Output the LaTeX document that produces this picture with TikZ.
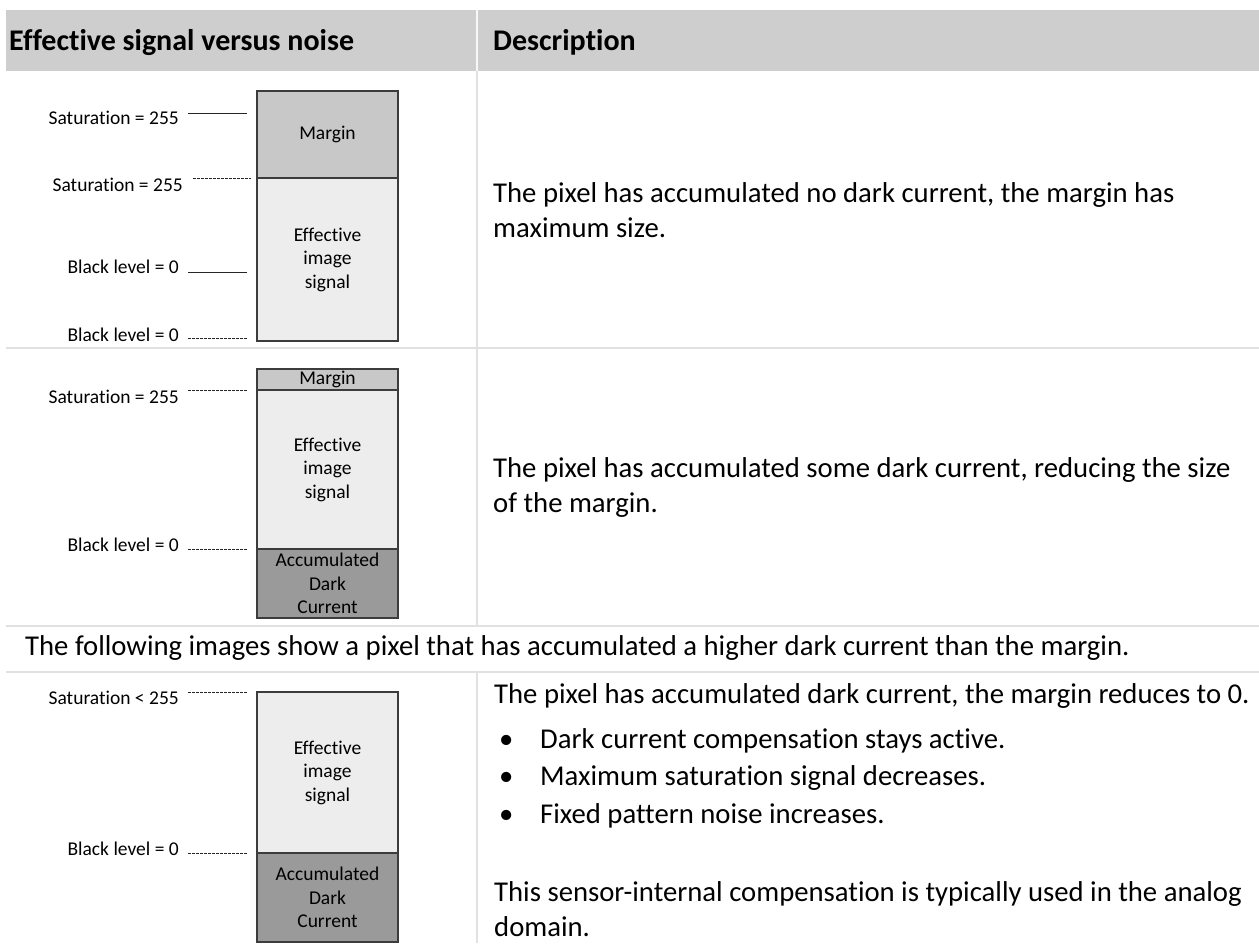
\documentclass[tikz,border=0pt]{standalone}
\usepackage{fontspec}
\setmainfont{Carlito}[Ligatures={NoCommon,NoContextual}]
\usepackage{tikz}
\usetikzlibrary{positioning}
\definecolor{hdrgray}{HTML}{CECECE}
\definecolor{rulegray}{HTML}{E1E1E1}
\definecolor{margingray}{HTML}{C8C8C8}
\definecolor{effgray}{HTML}{EDEDED}
\definecolor{darkcur}{HTML}{9A9A9A}
\definecolor{boxline}{HTML}{3C3C3C}
\newcommand\txtfont{\fontsize{28.7}{35}\selectfont}
\newcommand\hdrfont{\fontsize{30}{36}\selectfont\bfseries}
\newcommand\lblfont{\fontsize{19.5}{23.5}\selectfont}

\begin{document}
\begin{tikzpicture}[x=1pt,y=-1pt,
 seg/.style={draw=boxline,line width=1.6pt,minimum width=141pt,inner sep=0pt,outer sep=0pt,align=center,font=\lblfont},
 marg/.style={seg,fill=margingray}, eff/.style={seg,fill=effgray}, dark/.style={seg,fill=darkcur},
 lbl/.style={inner sep=0pt,font=\lblfont},
 tick/.style={line width=0.9pt,black!85}, dtick/.style={tick,dash pattern=on 3pt off 1pt},
 txt/.style={inner sep=0pt,anchor=west,align=left,font=\txtfont}, txtb/.style={txt,anchor=base west},
 hdr/.style={inner sep=0pt,anchor=base west,font=\hdrfont},
 rule/.style={rulegray,line width=2pt}]
\useasboundingbox (0,0) rectangle (1259,943);
\fill[white] (0,0) rectangle (1259,943);
% table
\fill[hdrgray] (6,10) rectangle (1259,71);
\draw[white!85!hdrgray,line width=2pt] (477,10) -- (477,71);
\node[hdr] (h1) at (9,50) {Effective signal versus noise};
\node[hdr] (h2) at (493,50) {Description};
\draw[rule] (6,348) -- (1259,348); \draw[rule] (6,626) -- (1259,626);
\draw[rule] (6,672) -- (1259,672);
\draw[rule] (477,71) -- (477,626); \draw[rule] (477,672) -- (477,943);
% row 1
\node[marg,anchor=north,minimum height=87pt] (m1) at (327.5,91) {Margin};
\node[eff,below=0pt of m1,minimum height=163pt] (e1) {Effective\\image\\signal};
\coordinate (s1) at (188,113); \coordinate (s2) at (193,178);
\coordinate (k1) at (188,272); \coordinate (k2) at (188,338);
\node[lbl,left=9pt of s1,yshift=-5pt] (sa1) {Saturation = 255};
\node[lbl,left=10pt of s2,yshift=-7pt] (sa2) {Saturation = 255};
\node[lbl,left=9pt of k1,yshift=5pt] (bl1) {Black level = 0};
\node[lbl,left=9pt of k2,yshift=3pt] (bl2) {Black level = 0};
\draw[tick] (s1) -- ([xshift=-10pt]m1.west |- s1);
\draw[dtick] (s2) -- ([xshift=-6pt]m1.west |- s2);
\draw[tick] (k1) -- ([xshift=-10pt]e1.west |- k1);
\draw[dtick] (k2) -- ([xshift=-10pt]e1.west |- k2);
\node[txt] (d1) at (493,210) {The pixel has accumulated no dark current, the margin has\\maximum size.};
% row 2
\node[marg,anchor=north,minimum height=21pt] (m2) at (327.5,369) {Margin};
\node[eff,below=0pt of m2,minimum height=159pt] (e2) {Effective\\image\\signal};
\node[dark,below=0pt of e2,minimum height=69pt] (a2) {Accumulated\\Dark\\Current};
\coordinate (s3) at (188,390); \coordinate (k3) at (188,549);
\node[lbl,left=9pt of s3,yshift=-7pt] (sa3) {Saturation = 255};
\node[lbl,left=9pt of k3,yshift=4pt] (bl3) {Black level = 0};
\draw[dtick] (s3) -- ([xshift=-10pt]e2.west |- s3);
\draw[dtick] (k3) -- ([xshift=-10pt]a2.west |- k3);
\node[txt] (d2) at (493,487) {The pixel has accumulated some dark current, reducing the size\\of the margin.};
% note
\node[txt] (note) at (25,648) {The following images show a pixel that has accumulated a higher dark current than the margin.};
% row 3
\node[eff,anchor=north,minimum height=161pt] (e3) at (327.5,692) {Effective\\image\\signal};
\node[dark,below=0pt of e3,minimum height=89pt] (a3) {Accumulated\\Dark\\Current};
\coordinate (s4) at (188,692); \coordinate (k4) at (188,853);
\node[lbl,left=9pt of s4,yshift=-6pt] (sa4) {Saturation < 255};
\node[lbl,left=9pt of k4,yshift=4pt] (bl4) {Black level = 0};
\draw[dtick] (s4) -- ([xshift=-10pt]e3.west |- s4);
\draw[dtick] (k4) -- ([xshift=-10pt]a3.west |- k4);
\node[txtb] (d3) at (494,703) {The pixel has accumulated dark current, the margin reduces to 0.};
\foreach \t/\yy [count=\i] in {Dark current compensation stays active./748,Maximum saturation signal decreases./785,Fixed pattern noise increases./823}
 {\node[txtb] (b\i) at (499,\yy) {\makebox[41pt][l]{\textbullet}\t};}
\node[txtb] (d4) at (494,901) {This sensor-internal compensation is typically used in the analog};
\node[txtb] (d5) at (494,936) {domain.};
\end{tikzpicture}
\end{document}
